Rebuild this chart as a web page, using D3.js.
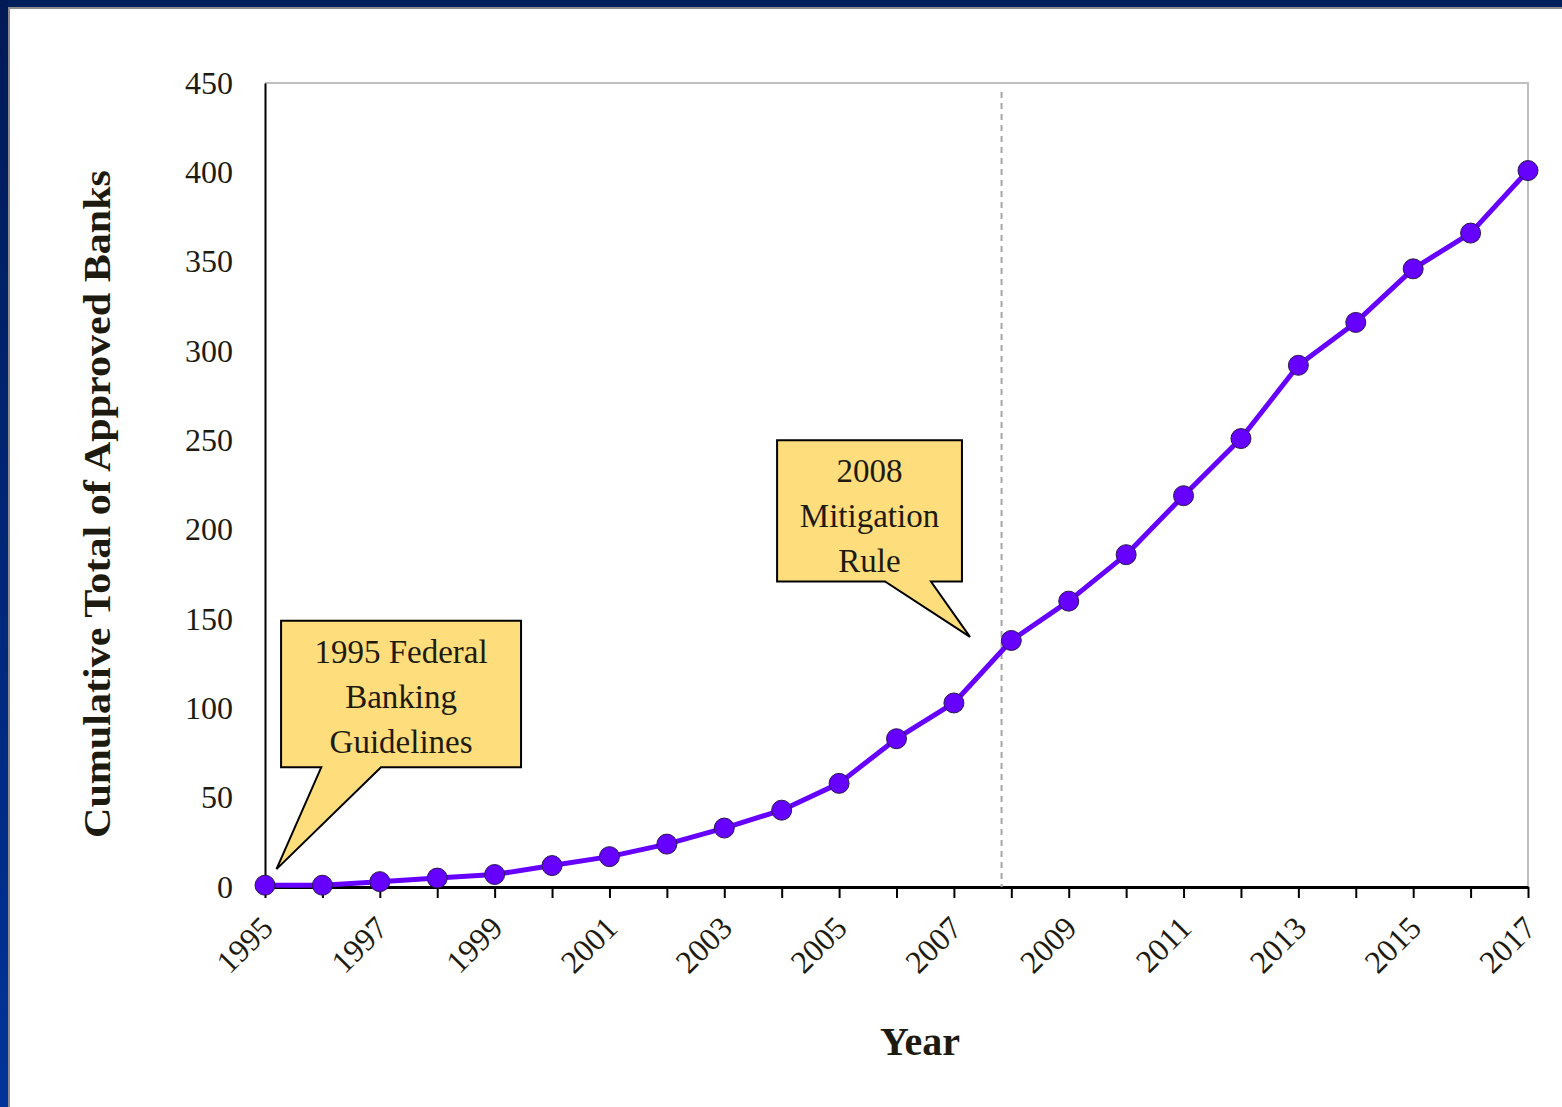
<!DOCTYPE html>
<html>
<head>
<meta charset="utf-8">
<script src="https://cdn.jsdelivr.net/npm/d3@7"></script>
<style>
  body { margin: 0; background: #fff; }
  text { font-family: "Liberation Serif", "DejaVu Serif", serif; fill: #1d1b10; }
</style>
</head>
<body>
<div class="mainDiv"></div>
<script>
// data
const years = d3.range(1995, 2018);
const banks = [1, 1, 3, 5, 7, 12, 17, 24, 33, 43, 58, 83, 103, 138, 160, 186, 219, 251, 292, 316, 346, 366, 401];
const yTicks = [0, 50, 100, 150, 200, 250, 300, 350, 400, 450];
const labelYears = years.filter(y => (y - 1995) % 2 == 0);
const ruleYear = 2007.83;
const notes = [
  {lines: ["1995 Federal", "Banking", "Guidelines"], x0: 1995.28, x1: 1999.46, y0: 149, y1: 67, p0: 1995.98, p1: 1997.02, tipX: 1995.2, tipY: 10},
  {lines: ["2008", "Mitigation", "Rule"], x0: 2003.92, x1: 2007.14, y0: 250, y1: 171, p0: 2005.8, p1: 2006.6, tipX: 2007.28, tipY: 140}
];

const W = 1562, H = 1107;
const svg = d3.select('.mainDiv').append('svg')
  .attr('width', W).attr('height', H);

// slide frame
const grad = svg.append('defs').append('linearGradient')
  .attr('id', 'side').attr('x1', 0).attr('x2', 0).attr('y1', 0).attr('y2', 1);
grad.append('stop').attr('offset', '0%').attr('stop-color', '#001a55');
grad.append('stop').attr('offset', '100%').attr('stop-color', '#003399');
svg.append('rect').attr('width', W).attr('height', 7).attr('fill', '#001f5b');
svg.append('rect').attr('width', 8).attr('height', H).attr('fill', 'url(#side)');
svg.append('rect').attr('x', 8).attr('y', 7).attr('width', W).attr('height', 2).attr('fill', '#8c8c8c');
svg.append('rect').attr('x', 8).attr('y', 7).attr('width', 2).attr('height', H).attr('fill', '#8c8c8c');

const x = d3.scaleLinear().domain([1995, 2017]).range([265, 1528]);
const y = d3.scaleLinear().domain([0, 450]).range([887, 83]);

// plot border (top/right grey)
svg.append('path')
  .attr('d', `M${x(1995)},${y(450)}H${x(2017)}V${y(0)}`)
  .attr('fill', 'none').attr('stroke', '#bfbfbf').attr('stroke-width', 2);

// y axis
const yAxis = svg.append('g').attr('transform', `translate(${x(1995)},0)`)
  .call(d3.axisLeft(y).tickValues(yTicks).tickSize(0).tickPadding(32));
yAxis.select('.domain').attr('stroke', '#000').attr('stroke-width', 2);
yAxis.selectAll('text').attr('font-size', 32).attr('font-family', null).attr('fill', null);

// x axis
const xAxis = svg.append('g').attr('transform', `translate(0,${y(0)})`)
  .call(d3.axisBottom(x).tickValues(years).tickSize(11).tickSizeOuter(0).tickFormat(''));
xAxis.select('.domain').attr('stroke', '#000').attr('stroke-width', 3);
xAxis.selectAll('.tick line').attr('stroke', '#000').attr('stroke-width', 2);

svg.append('g').selectAll('text')
  .data(labelYears)
  .join('text')
  .attr('transform', d => `translate(${x(d) - 6},${y(0) + 27}) rotate(-45)`)
  .attr('text-anchor', 'end')
  .attr('dy', '0.7em')
  .attr('font-size', 32)
  .text(d => d);

// axis titles
svg.append('text')
  .attr('transform', `translate(110,${(170 + 838) / 2}) rotate(-90)`)
  .attr('text-anchor', 'middle')
  .attr('font-size', 38).attr('font-weight', 'bold')
  .attr('textLength', 668).attr('lengthAdjust', 'spacingAndGlyphs')
  .text('Cumulative Total of  Approved Banks');

svg.append('text')
  .attr('x', 920).attr('y', 1055)
  .attr('text-anchor', 'middle')
  .attr('font-size', 40).attr('font-weight', 'bold')
  .text('Year');

// 2008 rule marker
svg.append('line')
  .attr('x1', x(ruleYear)).attr('x2', x(ruleYear))
  .attr('y1', y(445)).attr('y2', y(0))
  .attr('stroke', '#a6a6a6').attr('stroke-width', 2).attr('stroke-dasharray', '6,5');

// callouts
notes.forEach(n => {
  const g = svg.append('g');
  const path = `M${x(n.x0)},${y(n.y0)}H${x(n.x1)}V${y(n.y1)}H${x(n.p1)}L${x(n.tipX)},${y(n.tipY)}L${x(n.p0)},${y(n.y1)}H${x(n.x0)}Z`;
  g.append('path').attr('d', path)
    .attr('fill', '#fedd7c').attr('stroke', '#000').attr('stroke-width', 2);
  const cx = (x(n.x0) + x(n.x1)) / 2;
  const top = y(n.y0);
  g.selectAll('text').data(n.lines).join('text')
    .attr('x', cx).attr('y', (d, i) => top + 42 + i * 45)
    .attr('text-anchor', 'middle')
    .attr('font-size', 33)
    .text(d => d);
});

// series
const pts = years.map((yr, i) => ({year: yr, v: banks[i]}));
svg.append('path').datum(pts)
  .attr('fill', 'none').attr('stroke', '#6600ff').attr('stroke-width', 5)
  .attr('stroke-linejoin', 'round')
  .attr('d', d3.line().x(d => x(d.year)).y(d => y(d.v)));
svg.append('g').selectAll('circle').data(pts).join('circle')
  .attr('cx', d => x(d.year)).attr('cy', d => y(d.v)).attr('r', 10)
  .attr('fill', '#6600ff').attr('stroke', '#2a1a4a').attr('stroke-width', 1);
</script>
</body>
</html>
